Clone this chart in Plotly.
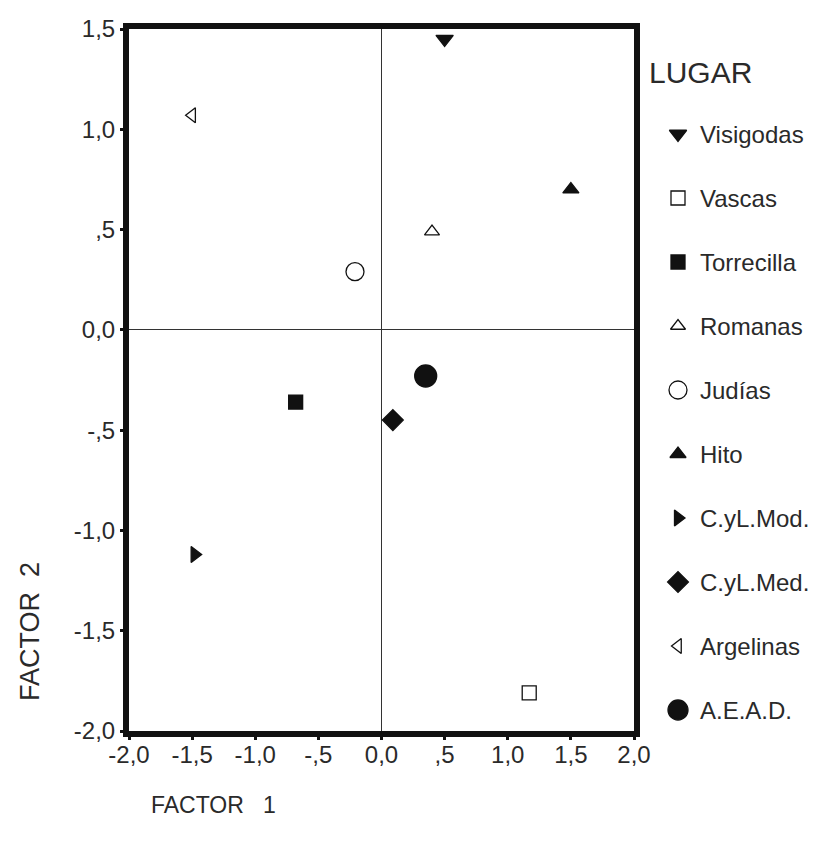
import plotly.graph_objects as go

lugares = ["Visigodas", "Vascas", "Torrecilla", "Romanas", "Judías", "Hito",
           "C.yL.Mod.", "C.yL.Med.", "Argelinas", "A.E.A.D."]
factor1 = [0.50, 1.17, -0.68, 0.40, -0.21, 1.50, -1.48, 0.09, -1.50, 0.35]
factor2 = [1.45, -1.81, -0.36, 0.49, 0.29, 0.70, -1.12, -0.45, 1.07, -0.23]
symbols = ["triangle-down", "square-open", "square", "triangle-up-open", "circle-open",
           "triangle-up", "triangle-right", "diamond", "triangle-left-open", "circle"]
sizes = [15, 14, 14, 13, 18, 14, 14, 16, 13, 22]

tick_vals_x = [-2.0, -1.5, -1.0, -0.5, 0.0, 0.5, 1.0, 1.5, 2.0]
tick_text_x = ["-2,0", "-1,5", "-1,0", "-,5", "0,0", ",5", "1,0", "1,5", "2,0"]
tick_vals_y = [-2.0, -1.5, -1.0, -0.5, 0.0, 0.5, 1.0, 1.5]
tick_text_y = ["-2,0", "-1,5", "-1,0", "-,5", "0,0", ",5", "1,0", "1,5"]

FONT = "Liberation Sans, Arial"
TXT = "#2a2a2a"
W, H = 818, 848
ML, MT, PW, PH = 121, 21, 505, 702
paper_w = W - ML
x_split = PW / paper_w

fig = go.Figure()
for i, name in enumerate(lugares):
    fig.add_trace(go.Scatter(
        x=[factor1[i]], y=[factor2[i]], mode="markers", name=name,
        cliponaxis=False, showlegend=False,
        marker=dict(symbol=symbols[i], size=sizes[i], color="#111111", opacity=1,
                    line=dict(color="#111111", width=1.3)),
    ))

# legend panel (right side), rows laid out on a helper axis in pixel units
leg_x0 = ML + PW            # pixel left of legend axis
leg_sym_x = leg_x0 + 44
leg_txt_x = leg_x0 + 64
row0, row_step = 126, 64
rows = [row0 + row_step * i for i in range(len(lugares))]
fig.add_trace(go.Scatter(
    x=[leg_sym_x] * len(lugares), y=rows, mode="markers", xaxis="x2", yaxis="y2",
    showlegend=False, cliponaxis=False, hoverinfo="skip",
    marker=dict(symbol=symbols, size=[min(s, 20) for s in sizes], color="#111111",
                opacity=1, line=dict(color="#111111", width=1.3)),
))

annotations = []
for i, name in enumerate(lugares):
    annotations.append(dict(text=name, x=leg_txt_x, y=rows[i], xref="x2", yref="y2",
                            xanchor="left", yanchor="middle", showarrow=False,
                            font=dict(family=FONT, size=24, color=TXT)))
annotations.append(dict(text="LUGAR", x=leg_x0 + 13, y=row0 - 62, xref="x2", yref="y2",
                        xanchor="left", yanchor="middle", showarrow=False,
                        font=dict(family=FONT, size=30, color=TXT)))
annotations.append(dict(text="FACTOR\u00a0\u00a0\u00a01", xref="paper", yref="paper",
                        x=(141 - ML) / paper_w, y=1 - (797 - MT) / PH,
                        xanchor="left", yanchor="middle", showarrow=False,
                        font=dict(family=FONT, size=23, color=TXT)))
annotations.append(dict(text="FACTOR\u00a0\u00a02", xref="paper", yref="paper",
                        x=(22 - ML) / paper_w, y=1 - (624 - MT) / PH,
                        xanchor="center", yanchor="middle", textangle=-90, showarrow=False,
                        font=dict(family=FONT, size=27, color=TXT)))

axis_common = dict(showgrid=False, showline=True, linecolor="#111111", linewidth=6,
                   mirror=True, ticks="outside", ticklen=3, tickwidth=3, tickcolor="#111111",
                   zeroline=True, zerolinecolor="#333333", zerolinewidth=1, automargin=False,
                   tickfont=dict(family=FONT, size=24, color=TXT))

fig.update_layout(
    width=W, height=H,
    margin=dict(l=ML, r=0, t=MT, b=H - MT - PH),
    paper_bgcolor="white", plot_bgcolor="white",
    font=dict(family=FONT, color=TXT),
    showlegend=False,
    xaxis=dict(range=[-2, 2], domain=[0, x_split], tickvals=tick_vals_x,
               ticktext=tick_text_x, ticklabelstandoff=-6, **axis_common),
    yaxis=dict(range=[-2, 1.5], domain=[0, 1], tickvals=tick_vals_y,
               ticktext=tick_text_y, **axis_common),
    xaxis2=dict(domain=[x_split, 1], range=[leg_x0, W], visible=False, fixedrange=True),
    yaxis2=dict(domain=[0, 1], range=[MT + PH, MT], visible=False, fixedrange=True,
                anchor="x2"),
    annotations=annotations,
)

fig.write_html("out.html")
